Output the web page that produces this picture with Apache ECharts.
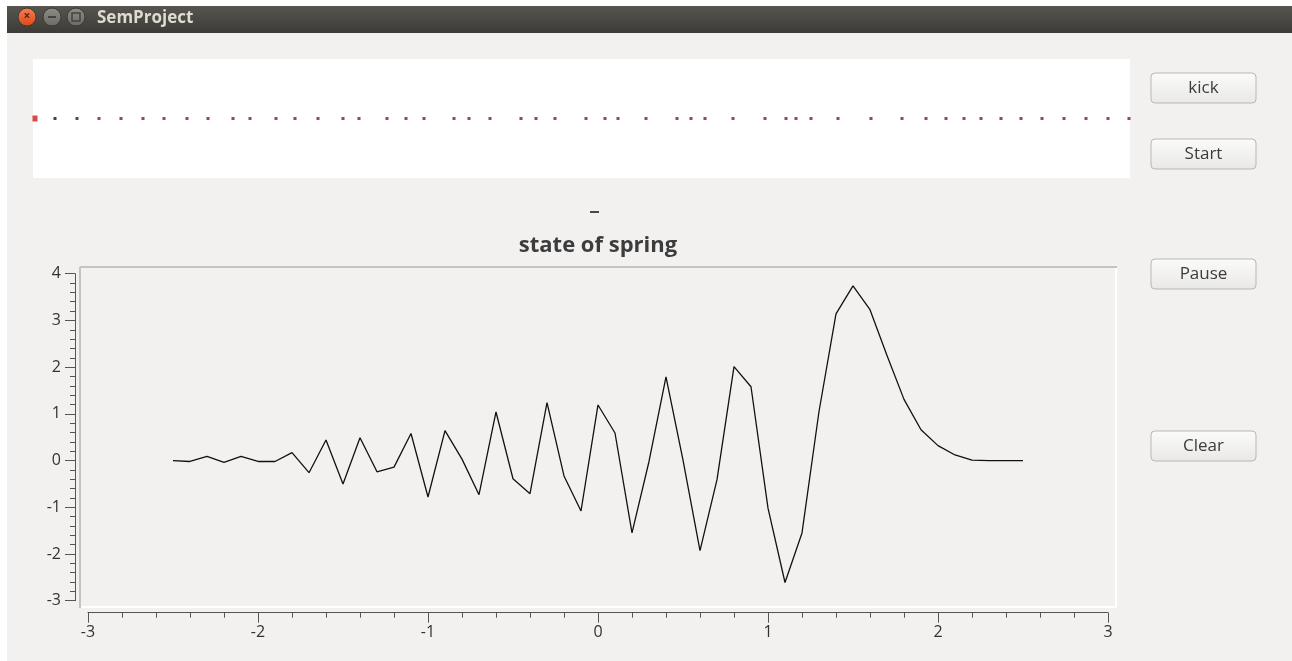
<!DOCTYPE html>
<html>
<head>
<meta charset="utf-8">
<style>
html,body{margin:0;padding:0;background:#ffffff;}
#chart{width:1292px;height:661px;}
</style>
<script src="https://cdn.jsdelivr.net/npm/echarts@6/dist/echarts.min.js"></script>
</head>
<body>
<div id="chart"></div>
<script>
// ---- data ----
var springX = [-2.5,-2.4,-2.3,-2.2,-2.1,-2.0,-1.9,-1.8,-1.7,-1.6,-1.5,-1.4,-1.3,-1.2,-1.1,-1.0,-0.9,-0.8,-0.7,-0.6,-0.5,-0.4,-0.3,-0.2,-0.1,0.0,0.1,0.2,0.3,0.4,0.5,0.6,0.7,0.8,0.9,1.0,1.1,1.2,1.3,1.4,1.5,1.6,1.7,1.8,1.9,2.0,2.1,2.2,2.3,2.4,2.5];
var springY = [0.0,-0.02,0.09,-0.04,0.09,-0.02,-0.02,0.17,-0.26,0.44,-0.5,0.49,-0.24,-0.14,0.58,-0.78,0.64,0.03,-0.73,1.04,-0.39,-0.71,1.24,-0.33,-1.08,1.19,0.59,-1.55,-0.02,1.79,0.01,-1.93,-0.41,2.01,1.58,-1.02,-2.61,-1.55,1.05,3.14,3.74,3.23,2.25,1.31,0.66,0.32,0.12,0.01,0.0,0.0,0.0];
var xTicks = [-3,-2,-1,0,1,2,3];
var yTicks = [-3,-2,-1,0,1,2,3,4];
var massPositions = [2,22,44,66,88,110,131,154,175,200,217,243,262,285,310,326,354,373,391,421,436,457,488,503,522,553,572,585,613,644,658,672,700,732,753,763,778,805,838,869,893,913,931,948,968,988,1009,1031,1053,1075,1096];
var massColors = ['#d41a1a','#111111','#222222'];
var buttonLabels = ['kick','Start','Pause','Clear'];
var windowTitle = 'SemProject';
var chartTitle = 'state of spring';

// ---- build ----
var lineData = springX.map(function(x,i){return [x, springY[i]];});
var massData = massPositions.map(function(p,i){
  return {value:[p,0], itemStyle:{color: i < massColors.length ? massColors[i] : '#7e1830'}, symbolSize: i===0 ? [5,6] : [3,3]};
});

var font = '"Open Sans","DejaVu Sans",sans-serif';
var buttonTops = [73,139,259,431];
var graphics = [];
// window body
graphics.push({type:'rect', z:-10, shape:{x:7,y:33,width:1285,height:628}, style:{fill:'#f2f1f0'}, silent:true});
// title bar
graphics.push({type:'rect', z:-5, shape:{x:7,y:6,width:1285,height:27},
  style:{fill:{type:'linear',x:0,y:0,x2:0,y2:1,colorStops:[{offset:0,color:'#57554f'},{offset:1,color:'#3d3b37'}]}}});
graphics.push({type:'circle', shape:{cx:27,cy:17,r:9}, style:{fill:{type:'linear',x:0,y:0,x2:0,y2:1,colorStops:[{offset:0,color:'#f37f56'},{offset:1,color:'#dd4814'}]}, stroke:'#3a3935', lineWidth:1}});
graphics.push({type:'text', style:{x:27,y:17,text:'×',fill:'#5a2412',font:'bold 12px '+font,textAlign:'center',textVerticalAlign:'middle'}});
graphics.push({type:'circle', shape:{cx:52,cy:17,r:9}, style:{fill:{type:'linear',x:0,y:0,x2:0,y2:1,colorStops:[{offset:0,color:'#8e8c86'},{offset:1,color:'#6b6a65'}]}, stroke:'#3a3935', lineWidth:1}});
graphics.push({type:'rect', shape:{x:48,y:16,width:8,height:2}, style:{fill:'#444340'}});
graphics.push({type:'circle', shape:{cx:76,cy:17,r:9}, style:{fill:{type:'linear',x:0,y:0,x2:0,y2:1,colorStops:[{offset:0,color:'#8e8c86'},{offset:1,color:'#6b6a65'}]}, stroke:'#3a3935', lineWidth:1}});
graphics.push({type:'rect', shape:{x:72,y:13,width:8,height:8}, style:{fill:'none',stroke:'#444340',lineWidth:1.5}});
graphics.push({type:'text', style:{x:97,y:18,text:windowTitle,fill:'#dfdbd2',font:'bold 17px '+font,textVerticalAlign:'middle'}});
// buttons
buttonLabels.forEach(function(lbl,i){
  var t = buttonTops[i];
  graphics.push({type:'rect', shape:{x:1151,y:t,width:105,height:30,r:4},
    style:{fill:{type:'linear',x:0,y:0,x2:0,y2:1,colorStops:[{offset:0,color:'#fbfbfa'},{offset:1,color:'#e9e8e6'}]}, stroke:'#b9b7b3', lineWidth:1}});
  graphics.push({type:'text', style:{x:1203.5,y:t+15,text:lbl,fill:'#3c3c3c',font:'17px '+font,textAlign:'center',textVerticalAlign:'middle'}});
});
// small dash label
graphics.push({type:'line', shape:{x1:590,y1:212,x2:599,y2:212}, style:{stroke:'#111111',lineWidth:1.5}});
// chart title
graphics.push({type:'text', style:{x:598,y:246,text:chartTitle,fill:'#3c3c3c',font:'bold 22px '+font,textAlign:'center',textVerticalAlign:'middle'}});
// plot canvas frame (sunken)
graphics.push({type:'line', shape:{x1:80,y1:267,x2:1117,y2:267}, style:{stroke:'#c4c3c1',lineWidth:2}});
graphics.push({type:'line', shape:{x1:80,y1:267,x2:80,y2:608}, style:{stroke:'#c4c3c1',lineWidth:2}});
graphics.push({type:'line', shape:{x1:1116,y1:268,x2:1116,y2:608}, style:{stroke:'#ffffff',lineWidth:2}});
graphics.push({type:'line', shape:{x1:81,y1:607,x2:1117,y2:607}, style:{stroke:'#ffffff',lineWidth:2}});

var chart = echarts.init(document.getElementById('chart'), null, {renderer:'canvas'});
chart.setOption({
  animation:false,
  backgroundColor:'#ffffff',
  graphic:graphics,
  grid:[
    {left:33, top:59, width:1097, height:119, show:true, backgroundColor:'#ffffff', borderWidth:0},
    {left:88, top:273.7, width:1020, height:327, show:false}
  ],
  xAxis:[
    {gridIndex:0, type:'value', min:0, max:1097, show:false},
    {gridIndex:1, type:'value', min:-3, max:3, interval:1, offset:12,
      axisLine:{show:true, onZero:false, lineStyle:{color:'#555555', width:1}},
      axisTick:{show:true, inside:false, length:10, lineStyle:{color:'#555555'}},
      minorTick:{show:true, splitNumber:5, length:5, lineStyle:{color:'#555555'}},
      splitLine:{show:false},
      axisLabel:{margin:12, fontFamily:'Open Sans', fontSize:16, color:'#333333',
        formatter:function(v){return xTicks.indexOf(v)>=0 ? String(v) : '';}}}
  ],
  yAxis:[
    {gridIndex:0, type:'value', min:-1, max:1, show:false},
    {gridIndex:1, type:'value', min:-3, max:4, interval:1, offset:13,
      axisLine:{show:true, onZero:false, lineStyle:{color:'#555555', width:1}},
      axisTick:{show:true, inside:false, length:10, lineStyle:{color:'#555555'}},
      minorTick:{show:true, splitNumber:5, length:5, lineStyle:{color:'#555555'}},
      splitLine:{show:false},
      axisLabel:{margin:14, fontFamily:'Open Sans', fontSize:16, color:'#333333',
        formatter:function(v){return yTicks.indexOf(v)>=0 ? String(v) : '';}}}
  ],
  series:[
    {type:'scatter', xAxisIndex:0, yAxisIndex:0, symbol:'rect', data:massData, silent:true},
    {type:'line', xAxisIndex:1, yAxisIndex:1, data:lineData, symbol:'none', smooth:false,
      lineStyle:{color:'#111111', width:1.3}, silent:true}
  ]
});
</script>
</body>
</html>
